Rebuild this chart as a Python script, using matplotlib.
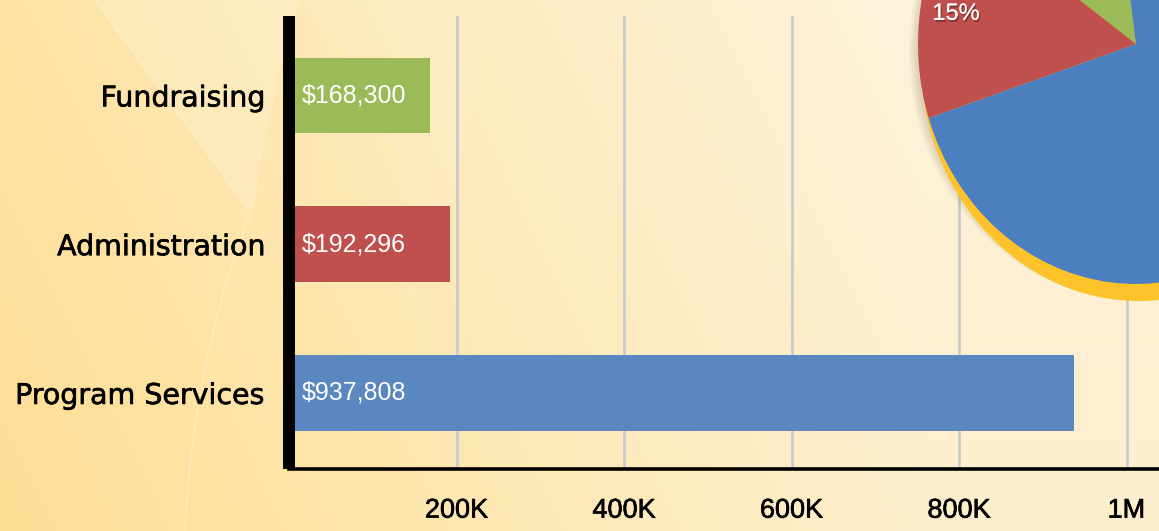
import numpy as np
import matplotlib
matplotlib.use("Agg")
import matplotlib.pyplot as plt
import matplotlib.patheffects as pe
from matplotlib.patches import Circle, PathPatch
from matplotlib.path import Path

# chart data
categories = ["Program Services", "Administration", "Fundraising"]
amounts = [937808, 192296, 168300]
bar_colors = ["#5A87BF", "#C0504D", "#9BBB59"]

tick_values = [200000, 400000, 600000, 800000, 1000000]
tick_labels = ["200K", "400K", "600K", "800K", "1M"]

# pie order: Fundraising, Administration, Program Services
pie_values = [168300, 192296, 937808]
pie_colors = ["#9BBB59", "#C0504D", "#4C7FC0"]

W, H = 1159, 531
fig = plt.figure(figsize=(W / 100, H / 100), dpi=100)

# background gradient
bg = fig.add_axes([0, 0, 1, 1])
yy, xx = np.mgrid[0:H, 0:W]
left_col = np.array([253, 222, 148]) / 255
right_col = np.array([254, 243, 220]) / 255
t = np.clip(xx / W * 1.25, 0, 1) * 0.78 + (1 - yy / H) * 0.22
t = np.clip(t, 0, 1)[..., None]
img = left_col * (1 - t) + right_col * t
bg.imshow(img, extent=(0, W, H, 0), aspect="auto", interpolation="bilinear")
bg.set_xlim(0, W)
bg.set_ylim(H, 0)
bg.axis("off")

# light swooshes
codes = [Path.MOVETO, Path.CURVE4, Path.CURVE4, Path.CURVE4,
         Path.CURVE4, Path.CURVE4, Path.CURVE4, Path.CLOSEPOLY]
verts = [(95, 0), (160, 90), (220, 170), (252, 215),
         (262, 150), (280, 60), (300, 0), (95, 0)]
bg.add_patch(PathPatch(Path(verts, codes), facecolor="white", alpha=0.16, lw=0))
verts2 = [(300, 0), (380, 80), (420, 180), (410, 300),
          (470, 190), (480, 80), (470, 0), (300, 0)]
bg.add_patch(PathPatch(Path(verts2, codes), facecolor="white", alpha=0.08, lw=0))
curve = Path([(250, 215), (215, 300), (190, 420), (185, 531)],
             [Path.MOVETO, Path.CURVE4, Path.CURVE4, Path.CURVE4])
bg.add_patch(PathPatch(curve, facecolor="none", edgecolor="white", alpha=0.3, lw=1))
curve2 = Path([(95, 0), (160, 90), (220, 170), (252, 215)],
              [Path.MOVETO, Path.CURVE4, Path.CURVE4, Path.CURVE4])
bg.add_patch(PathPatch(curve2, facecolor="none", edgecolor="white", alpha=0.3, lw=1))

# bar chart
ax = fig.add_axes([289 / W, (H - 468.5) / H, (W - 289) / W, (468.5 - 16) / H])
ax.set_facecolor("none")
y = np.arange(len(categories))
ax.barh(y, amounts, height=0.508, color=bar_colors, zorder=2)
ax.set_xlim(0, (W - 289) / 0.8375 * 1000)
ax.set_ylim(-0.508, 2.534)
ax.set_axisbelow(True)
ax.grid(axis="x", color="#C6C9CF", linewidth=1.9)
ax.grid(axis="y", visible=False)

heavy = [pe.withStroke(linewidth=0.45, foreground="black")]
ax.set_xticks(tick_values)
ax.set_xticklabels(tick_labels, fontsize=19.5, family="Liberation Sans")
ax.set_yticks(y)
ax.set_yticklabels(categories, fontsize=20.5, family="DejaVu Sans")
for lab in ax.get_xticklabels() + ax.get_yticklabels():
    lab.set_path_effects(heavy)
ax.tick_params(axis="x", length=0, pad=21)
ax.tick_params(axis="y", length=0, pad=17)

for side in ["top", "right"]:
    ax.spines[side].set_visible(False)
ax.spines["left"].set_linewidth(8.6)
ax.spines["left"].set_capstyle("butt")
ax.spines["bottom"].set_linewidth(2.6)
ax.spines["left"].set_zorder(3)

for i, v in enumerate(amounts):
    ax.annotate(f"${v:,}", xy=(0, i), xytext=(9.5, 0), textcoords="offset points",
                va="center", ha="left", color="white", fontsize=18,
                family="Liberation Sans", zorder=4)

# pie chart in the upper right corner (drawn slightly taller than wide)
cx, cy, rx, ry = 1136, H - 44, 218, 240
pw, ph = rx * 1.2, ry * 1.2
pax = fig.add_axes([(cx - pw) / W, (cy - ph) / H, 2 * pw / W, 2 * ph / H])

# soft shadow and golden rim underneath
for k in range(5):
    pax.add_patch(Circle((-0.008, -0.03), 1.0 + 0.008 * k, facecolor="#5a4a30",
                         alpha=0.04, lw=0, zorder=0))
pax.add_patch(Circle((0.014, -0.071), 1.0, facecolor="#FEC32A", lw=0, zorder=1))

wedges, texts, autotexts = pax.pie(pie_values, colors=pie_colors, startangle=98,
                                   counterclock=True, radius=1.0,
                                   autopct="%1.0f%%", pctdistance=0.835,
                                   wedgeprops=dict(linewidth=0))
for w in wedges:
    w.set_zorder(2)
for a in autotexts:
    a.set_color("white")
    a.set_fontsize(17)
    a.set_family("Liberation Sans")
    a.set_zorder(3)
    a.set_path_effects([pe.withSimplePatchShadow(offset=(1, -1.5), shadow_rgbFace="black",
                                                 alpha=0.35), pe.Normal()])
pax.set_xlim(-1.2, 1.2)
pax.set_ylim(-1.2, 1.2)
pax.set_aspect("auto")
pax.axis("off")

# the other percentages sit outside the cropped picture
for a in autotexts:
    px, py = a.get_position()
    fx = (cx + px * rx) / W
    fy = (cy + py * ry) / H
    if not (0 < fx < 1 and 0 < fy < 1):
        a.set_visible(False)

fig.savefig("out.png", dpi=100)
